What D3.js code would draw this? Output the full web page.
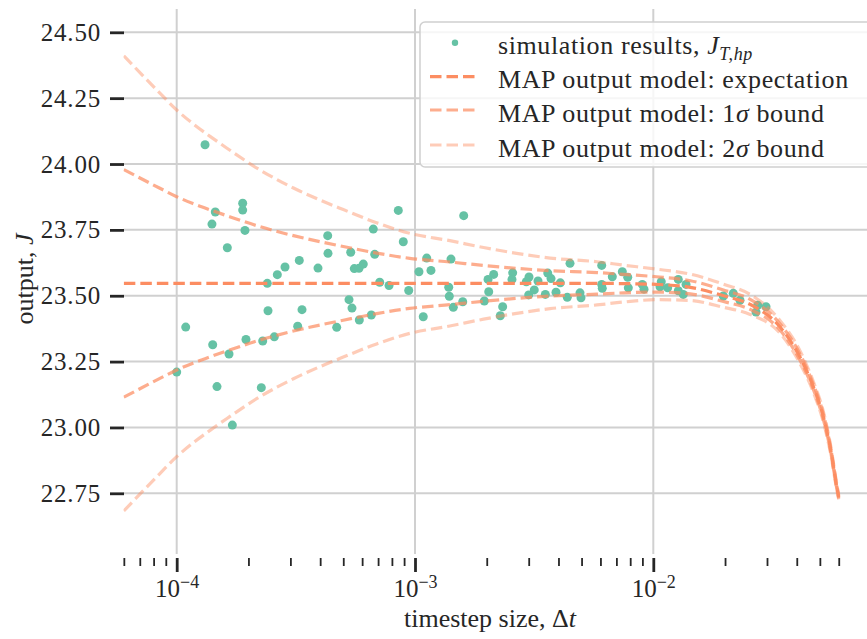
<!DOCTYPE html>
<html>
<head>
<meta charset="utf-8">
<script src="https://cdn.jsdelivr.net/npm/d3@7"></script>
<style>
  body { margin: 0; background: #fff; }
  text { font-family: "Liberation Serif", "Times New Roman", serif; fill: #262626; }
</style>
</head>
<body>
<div id="chart"></div>
<script>
// timestep grid used for the model curves
var modelDt = [6.0e-5, 8.5e-5, 1.0e-4, 1.17e-4, 1.38e-4, 1.62e-4, 2.24e-4, 3.09e-4, 4.0e-4, 5.0e-4,
               6.9e-4, 9.5e-4, 1.4e-3, 1.94e-3, 2.67e-3, 3.69e-3, 5.8e-3, 7.5e-3, 1.03e-2, 1.43e-2,
               1.97e-2, 2.55e-2, 3.4e-2, 4.12e-2, 4.69e-2, 5.17e-2, 5.52e-2, 5.92e-2, 6.0e-2];
var expectation = [23.547, 23.547, 23.547, 23.547, 23.547, 23.547, 23.547, 23.547, 23.547, 23.547,
                   23.547, 23.547, 23.547, 23.547, 23.547, 23.547, 23.547, 23.546, 23.543, 23.532,
                   23.500, 23.467, 23.382, 23.268, 23.155, 23.041, 22.927, 22.762, 22.735];
var sigma1Upper = [23.979, 23.908, 23.876, 23.850, 23.826, 23.804, 23.762, 23.728, 23.705, 23.687,
                   23.662, 23.642, 23.628, 23.615, 23.604, 23.595, 23.588, 23.581, 23.572, 23.557,
                   23.522, 23.486, 23.394, 23.280, 23.165, 23.051, 22.935, 22.767, 22.739];
var sigma1Lower = [23.115, 23.186, 23.218, 23.244, 23.268, 23.290, 23.332, 23.366, 23.389, 23.407,
                   23.432, 23.452, 23.466, 23.479, 23.490, 23.499, 23.506, 23.511, 23.514, 23.507,
                   23.478, 23.448, 23.370, 23.256, 23.145, 23.031, 22.919, 22.757, 22.731];
var sigma2Upper = [24.411, 24.269, 24.205, 24.153, 24.105, 24.061, 23.977, 23.909, 23.863, 23.827,
                   23.777, 23.737, 23.709, 23.683, 23.661, 23.643, 23.629, 23.616, 23.601, 23.582,
                   23.544, 23.505, 23.406, 23.292, 23.175, 23.061, 22.943, 22.772, 22.743];
var sigma2Lower = [22.683, 22.825, 22.889, 22.941, 22.989, 23.033, 23.117, 23.185, 23.231, 23.267,
                   23.317, 23.357, 23.385, 23.411, 23.433, 23.451, 23.465, 23.476, 23.485, 23.482,
                   23.456, 23.429, 23.358, 23.244, 23.135, 23.021, 22.911, 22.752, 22.727];

// simulation results
var simDt = [1.315e-4, 1.452e-4, 1.406e-4, 1.892e-4, 1.892e-4, 1.934e-4, 1.631e-4, 2.848e-4, 2.644e-4, 3.269e-4,
             3.917e-4, 2.40e-4, 2.416e-4, 3.356e-4, 1.091e-4, 3.219e-4, 1.416e-4, 1.953e-4, 2.296e-4, 2.568e-4,
             1.658e-4, 1.0e-4, 1.476e-4, 2.265e-4, 1.712e-4,
             8.51e-4, 6.683e-4, 8.93e-4, 4.302e-4, 4.314e-4, 5.373e-4, 6.775e-4, 5.563e-4, 5.821e-4, 6.068e-4,
             7.11e-4, 7.781e-4, 9.41e-4, 1.039e-3, 1.12e-3, 1.167e-3, 1.416e-3, 1.385e-3, 1.393e-3, 1.448e-3,
             5.285e-4, 5.44e-4, 5.839e-4, 6.556e-4, 4.693e-4, 1.083e-3,
             1.601e-3, 1.586e-3, 2.139e-3, 2.025e-3, 2.039e-3, 1.954e-3, 2.333e-3, 2.28e-3, 2.57e-3, 2.553e-3,
             3.009e-3, 2.932e-3, 3.282e-3, 3.166e-3, 3.0e-3, 3.606e-3, 3.722e-3, 4.072e-3, 3.906e-3, 3.523e-3,
             4.472e-3, 4.356e-3, 4.925e-3, 4.973e-3,
             6.074e-3, 6.73e-3, 7.413e-3, 7.81e-3, 6.074e-3, 6.109e-3, 7.855e-3, 8.993e-3, 9.141e-3, 1.08e-2,
             1.067e-2, 1.149e-2, 1.273e-2, 1.372e-2, 1.273e-2, 1.336e-2, 1.967e-2, 2.166e-2, 2.311e-2, 2.742e-2,
             2.971e-2, 2.698e-2];
var simJ = [24.073, 23.818, 23.772, 23.851, 23.825, 23.748, 23.682, 23.609, 23.580, 23.634,
            23.605, 23.547, 23.443, 23.447, 23.381, 23.384, 23.314, 23.334, 23.328, 23.344,
            23.279, 23.210, 23.155, 23.151, 23.009,
            23.824, 23.753, 23.705, 23.728, 23.661, 23.665, 23.657, 23.603, 23.604, 23.620,
            23.551, 23.539, 23.520, 23.591, 23.643, 23.596, 23.639, 23.532, 23.498, 23.456,
            23.485, 23.453, 23.408, 23.427, 23.380, 23.420,
            23.804, 23.477, 23.581, 23.562, 23.515, 23.480, 23.458, 23.424, 23.587, 23.562,
            23.571, 23.553, 23.556, 23.522, 23.503, 23.586, 23.565, 23.549, 23.513, 23.505,
            23.623, 23.494, 23.511, 23.492,
            23.615, 23.572, 23.591, 23.570, 23.543, 23.528, 23.530, 23.543, 23.525, 23.553,
            23.534, 23.530, 23.562, 23.543, 23.519, 23.505, 23.499, 23.509, 23.483, 23.464,
            23.458, 23.438];

var yTicks = [22.75, 23.00, 23.25, 23.50, 23.75, 24.00, 24.25, 24.50];
var xMajorTicks = [1e-4, 1e-3, 1e-2];
var xMajorExp = ["\u22124", "\u22123", "\u22122"];
var xMinorTicks = [6e-5, 7e-5, 8e-5, 9e-5, 2e-4, 3e-4, 4e-4, 5e-4, 6e-4, 7e-4, 8e-4, 9e-4,
                   2e-3, 3e-3, 4e-3, 5e-3, 6e-3, 7e-3, 8e-3, 9e-3, 2e-2, 3e-2, 4e-2, 5e-2, 6e-2];

var legendLabels = ["MAP output model: expectation", "MAP output model: ", "MAP output model: "];

// layout
var width = 867, height = 639;
var plot = {left: 123.5, right: 875, top: 9, bottom: 554};
var green = "#66c2a5", orange = "#fc8d62";

var svg = d3.select("#chart")
  .append("svg")
    .attr("width", width)
    .attr("height", height);

var x = d3.scaleLog()
  .domain([1e-4, 1e-2])
  .range([176.7, 653.3]);

var y = d3.scaleLinear()
  .domain([22.75, 24.5])
  .range([493.3, 32.3]);

svg.append("clipPath")
  .attr("id", "clip")
  .append("rect")
    .attr("x", plot.left)
    .attr("y", plot.top)
    .attr("width", plot.right - plot.left)
    .attr("height", plot.bottom - plot.top);

// grid
var grid = svg.append("g").attr("stroke", "#d0d0d0").attr("stroke-width", 2);
grid.selectAll(".vg").data(xMajorTicks).enter().append("line")
  .attr("x1", function(d) { return x(d); })
  .attr("x2", function(d) { return x(d); })
  .attr("y1", plot.top)
  .attr("y2", plot.bottom);
grid.selectAll(".hg").data(yTicks).enter().append("line")
  .attr("x1", plot.left)
  .attr("x2", plot.right)
  .attr("y1", function(d) { return y(d); })
  .attr("y2", function(d) { return y(d); });

// x axis: minor then major ticks
var xMinor = svg.append("g")
  .attr("transform", "translate(0,558)")
  .call(d3.axisBottom(x).tickValues(xMinorTicks).tickSize(8).tickFormat(""));
xMinor.select(".domain").remove();
xMinor.selectAll("line").attr("stroke", "#262626").attr("stroke-width", 1.8);

var xMajor = svg.append("g")
  .attr("transform", "translate(0,558)")
  .call(d3.axisBottom(x).tickValues(xMajorTicks).tickSize(14).tickFormat(""));
xMajor.select(".domain").remove();
xMajor.selectAll("line").attr("stroke", "#262626").attr("stroke-width", 2.8);

xMajor.selectAll(".tick").each(function(d, i) {
  var t = d3.select(this).select("text")
    .attr("y", 39).attr("dy", null)
    .attr("font-size", 25)
    .attr("text-anchor", "middle")
    .attr("fill", "#262626");
  t.text(null);
  t.append("tspan").text("10");
  t.append("tspan").attr("dy", -9).attr("font-size", 18).text(xMajorExp[i]);
});

// y axis
var yAxis = svg.append("g")
  .attr("transform", "translate(124,0)")
  .call(d3.axisLeft(y).tickValues(yTicks).tickSize(14).tickPadding(9).tickFormat(d3.format(".2f")));
yAxis.select(".domain").remove();
yAxis.selectAll("line").attr("stroke", "#262626").attr("stroke-width", 2.8);
yAxis.selectAll("text")
  .attr("font-size", 25)
  .attr("letter-spacing", 0.8)
  .attr("fill", "#262626");

// axis labels
var xl = svg.append("text")
  .attr("x", 490).attr("y", 627)
  .attr("text-anchor", "middle")
  .attr("font-size", 26);
xl.append("tspan").text("timestep size, \u0394");
xl.append("tspan").attr("font-style", "italic").text("t");

var yl = svg.append("text")
  .attr("transform", "translate(33,279) rotate(-90)")
  .attr("text-anchor", "middle")
  .attr("font-size", 26);
yl.append("tspan").text("output, ");
yl.append("tspan").attr("font-style", "italic").text("J");

// plotted data
var area = svg.append("g").attr("clip-path", "url(#clip)");

area.selectAll("circle")
  .data(simDt.map(function(d, i) { return [d, simJ[i]]; }))
  .enter().append("circle")
    .attr("cx", function(d) { return x(d[0]); })
    .attr("cy", function(d) { return y(d[1]); })
    .attr("r", 4.5)
    .attr("fill", green);

var line = d3.line()
  .x(function(d) { return x(d[0]); })
  .y(function(d) { return y(d[1]); })
  .curve(d3.curveMonotoneX);

function zip(vals) { return modelDt.map(function(d, i) { return [d, vals[i]]; }); }

var curves = [
  {vals: expectation, op: 1},
  {vals: sigma1Upper, op: 0.72},
  {vals: sigma1Lower, op: 0.72},
  {vals: sigma2Upper, op: 0.45},
  {vals: sigma2Lower, op: 0.45}
];
curves.forEach(function(c) {
  area.append("path")
    .attr("d", line(zip(c.vals)))
    .attr("fill", "none")
    .attr("stroke", orange)
    .attr("stroke-opacity", c.op)
    .attr("stroke-width", 3.2)
    .attr("stroke-dasharray", "11.5,5");
});

// legend
var lg = svg.append("g");
lg.append("rect")
  .attr("x", 420).attr("y", 22)
  .attr("width", 452).attr("height", 145)
  .attr("rx", 5)
  .attr("fill", "#fff").attr("fill-opacity", 0.8)
  .attr("stroke", "#d0d0d0").attr("stroke-width", 1.5);

lg.append("circle").attr("cx", 455).attr("cy", 42.7).attr("r", 3.2).attr("fill", green);
var t0 = lg.append("text").attr("x", 498).attr("y", 54).attr("font-size", 26).attr("letter-spacing", 0.6);
t0.append("tspan").text("simulation results, ");
t0.append("tspan").attr("font-style", "italic").text("J");
t0.append("tspan").attr("font-style", "italic").attr("font-size", 18).attr("dy", 6).text("T,hp");

var legOp = [1, 0.72, 0.45];
var legY = [76.7, 110, 145];
var legSigma = ["", "1", "2"];
legY.forEach(function(yy, i) {
  lg.append("line")
    .attr("x1", 430).attr("x2", 478)
    .attr("y1", yy).attr("y2", yy)
    .attr("stroke", orange).attr("stroke-opacity", legOp[i])
    .attr("stroke-width", 3.2).attr("stroke-dasharray", "11.5,5");
  var t = lg.append("text").attr("x", 498).attr("y", yy + 11.5)
    .attr("font-size", 26).attr("letter-spacing", 0.6);
  t.append("tspan").text(legendLabels[i]);
  if (i > 0) {
    t.append("tspan").text(legSigma[i]);
    t.append("tspan").attr("font-style", "italic").text("\u03c3");
    t.append("tspan").text(" bound");
  }
});
</script>
</body>
</html>
